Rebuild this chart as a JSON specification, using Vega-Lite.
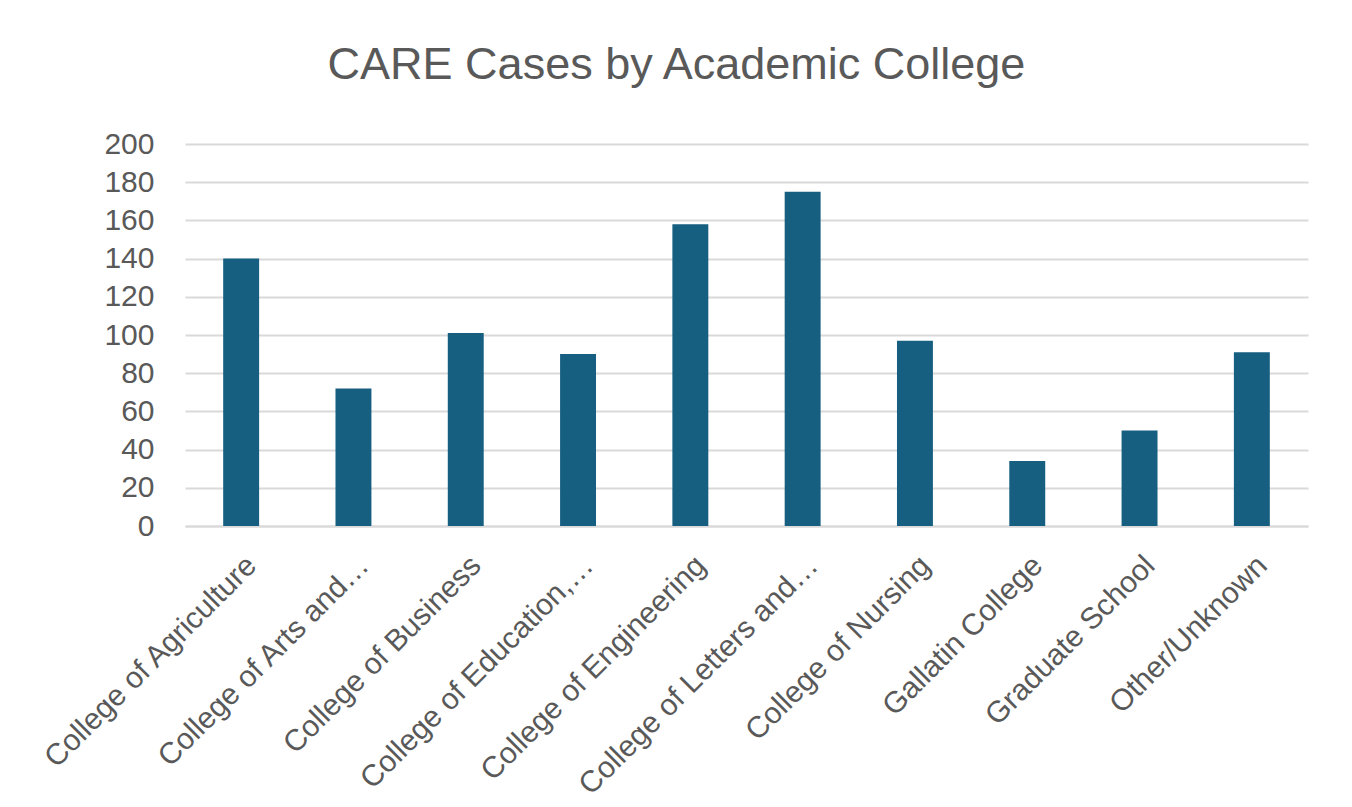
{
  "$schema": "https://vega.github.io/schema/vega-lite/v6.json",
  "width": 1123,
  "height": 382,
  "autosize": {"type": "none"},
  "padding": {"left": 185, "top": 144, "right": 44, "bottom": 281},
  "background": "white",
  "title": {
    "text": "CARE Cases by Academic College",
    "font": "Liberation Sans",
    "fontSize": 45,
    "fontWeight": "normal",
    "color": "#595959",
    "anchor": "middle",
    "frame": "group",
    "baseline": "alphabetic",
    "dx": -70,
    "offset": 5
  },
  "data": {
    "values": [
      {"college": "College of Agriculture", "cases": 140},
      {"college": "College of Arts and…", "cases": 72},
      {"college": "College of Business", "cases": 101},
      {"college": "College of Education,…", "cases": 90},
      {"college": "College of Engineering", "cases": 158},
      {"college": "College of Letters and…", "cases": 175},
      {"college": "College of Nursing", "cases": 97},
      {"college": "Gallatin College", "cases": 34},
      {"college": "Graduate School", "cases": 50},
      {"college": "Other/Unknown", "cases": 91}
    ]
  },
  "mark": {"type": "bar", "color": "#165F80"},
  "encoding": {
    "x": {
      "field": "college",
      "type": "nominal",
      "sort": null,
      "scale": {"paddingInner": 0.68, "paddingOuter": 0.34},
      "axis": {
        "title": null,
        "labelAngle": -45,
        "labelFont": "Liberation Sans",
        "labelFontSize": 30,
        "labelColor": "#595959",
        "labelPadding": 24,
        "ticks": false,
        "domainColor": "#d9d9d9",
        "domainWidth": 2,
        "labelLimit": 0
      }
    },
    "y": {
      "field": "cases",
      "type": "quantitative",
      "scale": {"domain": [0, 200]},
      "axis": {
        "title": null,
        "values": [0, 20, 40, 60, 80, 100, 120, 140, 160, 180, 200],
        "labelFont": "Liberation Sans",
        "labelFontSize": 30,
        "labelColor": "#595959",
        "labelPadding": 31,
        "ticks": false,
        "domain": false,
        "gridColor": "#d9d9d9",
        "gridWidth": 2
      }
    }
  },
  "config": {"view": {"stroke": null}}
}
